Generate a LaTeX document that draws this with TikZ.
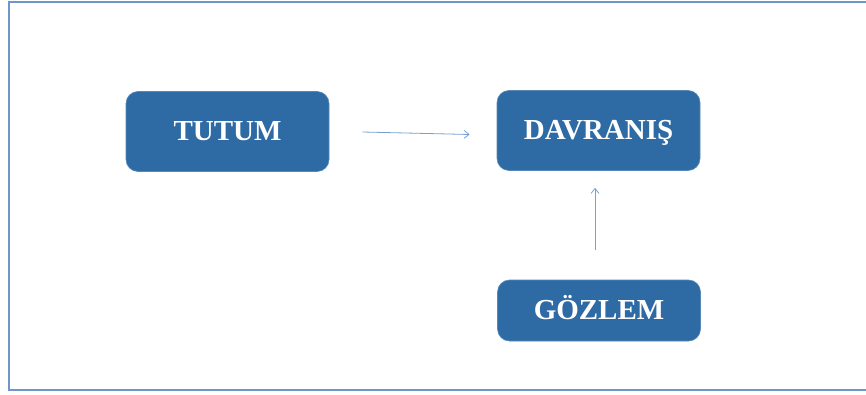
\documentclass[tikz,border=0pt]{standalone}
\usepackage{fontspec}
\setmainfont{Liberation Serif}
\usetikzlibrary{arrows.meta, positioning}
\definecolor{boxblue}{RGB}{46,107,164}
\definecolor{frameblue}{RGB}{110,150,200}
\definecolor{arrblue}{RGB}{120,160,210}
\tikzset{
  block/.style={rectangle, fill=boxblue, draw=boxblue!80!white,
    text=white, font=\bfseries\fontsize{29}{30}\selectfont,
    text height=19pt, text depth=1pt,
    minimum width=203pt, minimum height=80pt,
    rounded corners=12pt, line width=0.6pt},
  arrow/.style={-{Straight Barb[length=5pt,width=8pt]}, line width=0.8pt, color=arrblue},
  frameline/.style={line width=1.5pt, color=frameblue}
}
\begin{document}
\begin{tikzpicture}[x=1pt, y=-1pt]
  \useasboundingbox (0,0) rectangle (866,395);
  % outer frame, open on the right
  \draw[frameline] (866,2) -- (9,2) -- (9,390) -- (866,390);

  \node[block] (tutum) at (227.5,131.5) {TUTUM};
  \node[block] (davranis) at (598.5,130.5) {DAVRANIŞ};
  \node[block, minimum height=61pt] (gozlem) at (599,310.5) {GÖZLEM};

  % connectors
  \draw[arrow] ([xshift=33pt,yshift=-0.5pt]tutum.east) -- ([xshift=-27pt,yshift=-4pt]davranis.west);
  \draw[arrow] ([xshift=-4pt,yshift=30pt]gozlem.north) -- ([xshift=-3.5pt,yshift=-17pt]davranis.south);
\end{tikzpicture}
\end{document}
